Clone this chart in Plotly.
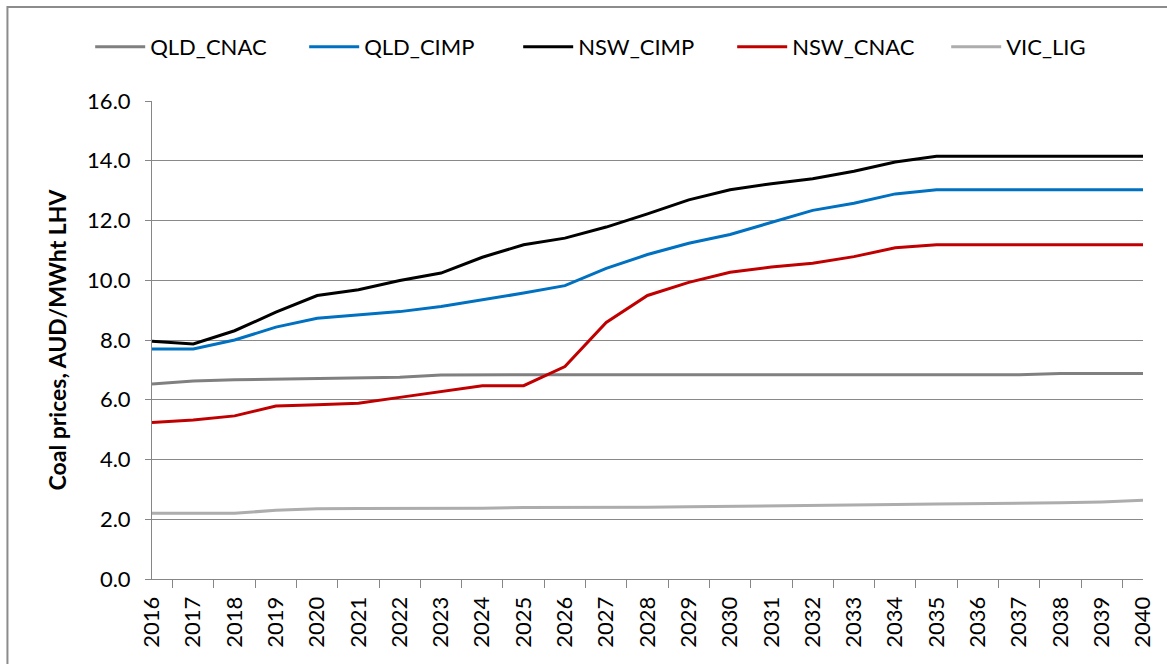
import plotly.graph_objects as go

years = [str(y) for y in range(2016, 2041)]

qld_cnac = [6.53, 6.63, 6.67, 6.69, 6.72, 6.72, 6.75, 6.83, 6.84, 6.84, 6.84, 6.84, 6.84,
            6.84, 6.84, 6.84, 6.84, 6.84, 6.84, 6.84, 6.84, 6.84, 6.88, 6.88, 6.88]
qld_cimp = [7.70, 7.70, 8.00, 8.43, 8.73, 8.84, 8.95, 9.12, 9.34, 9.57, 9.82, 10.40, 10.86,
            11.24, 11.53, 11.94, 12.34, 12.58, 12.89, 13.03, 13.03, 13.03, 13.03, 13.03, 13.03]
nsw_cimp = [7.96, 7.87, 8.31, 8.93, 9.49, 9.68, 9.99, 10.24, 10.77, 11.19, 11.41, 11.78, 12.22,
            12.69, 13.03, 13.23, 13.40, 13.65, 13.96, 14.15, 14.15, 14.15, 14.15, 14.15, 14.15]
nsw_cnac = [5.24, 5.32, 5.46, 5.79, 5.83, 5.88, 6.08, 6.28, 6.47, 6.47, 7.11, 8.59, 9.49,
            9.93, 10.27, 10.44, 10.57, 10.79, 11.09, 11.19, 11.19, 11.19, 11.19, 11.19, 11.19]
vic_lig = [2.20, 2.20, 2.20, 2.30, 2.35, 2.36, 2.36, 2.37, 2.37, 2.39, 2.39, 2.39, 2.40,
           2.42, 2.43, 2.44, 2.47, 2.48, 2.49, 2.51, 2.52, 2.54, 2.55, 2.58, 2.64]

series = [
    ("QLD_CNAC", qld_cnac, "#808080"),
    ("QLD_CIMP", qld_cimp, "#0070C0"),
    ("NSW_CIMP", nsw_cimp, "#000000"),
    ("NSW_CNAC", nsw_cnac, "#C00000"),
    ("VIC_LIG", vic_lig, "#ADADAD"),
]

font_family = "Lato, 'Open Sans', sans-serif"

L, R, T, B = 152, 1146, 101, 579
W, H = 1167, 664
pw, ph = R - L, B - T

fig = go.Figure()
for name, vals, col in series:
    fig.add_trace(go.Scatter(x=years, y=vals, name=name, mode="lines",
                             line=dict(color=col, width=3)))

fig.update_layout(
    width=W, height=H,
    margin=dict(l=L, r=W - R, t=T, b=H - B),
    paper_bgcolor="white", plot_bgcolor="white",
    font=dict(family=font_family, size=20, color="#000000"),
    showlegend=True,
    legend=dict(orientation="h", x=(90 - L) / pw, xanchor="left",
                y=(B - 47) / ph, yanchor="middle",
                font=dict(size=22), itemwidth=50, entrywidth=149, traceorder="normal"),
    xaxis=dict(type="category", tickson="boundaries", ticks="outside", ticklen=8,
               tickcolor="#868686", showline=True, linecolor="#868686", linewidth=1,
               tickangle=-90, showgrid=False, tickfont=dict(size=22), ticklabelstandoff=8),
    yaxis=dict(range=[0, 16], dtick=2, tickformat=".1f", ticks="outside", ticklen=6,
               tickcolor="#868686", showline=True, linecolor="#868686", linewidth=1,
               showgrid=True, gridcolor="#898989", gridwidth=1, zeroline=False,
               tickfont=dict(size=22), ticklabelstandoff=10,
               title=dict(text="<b>Coal prices, AUD/MWht LHV</b>", font=dict(size=23), standoff=14)),
    shapes=[dict(type="rect", xref="paper", yref="paper",
                 x0=(7 - L) / pw, x1=(1180 - L) / pw,
                 y0=(B - 680) / ph, y1=(B - 7) / ph,
                 line=dict(color="#8C8C8C", width=2), fillcolor="rgba(0,0,0,0)", layer="below")],
)

fig.write_html("out.html", config={"displayModeBar": False},
               post_script="document.body.style.margin='0';document.body.style.overflow='hidden';")
